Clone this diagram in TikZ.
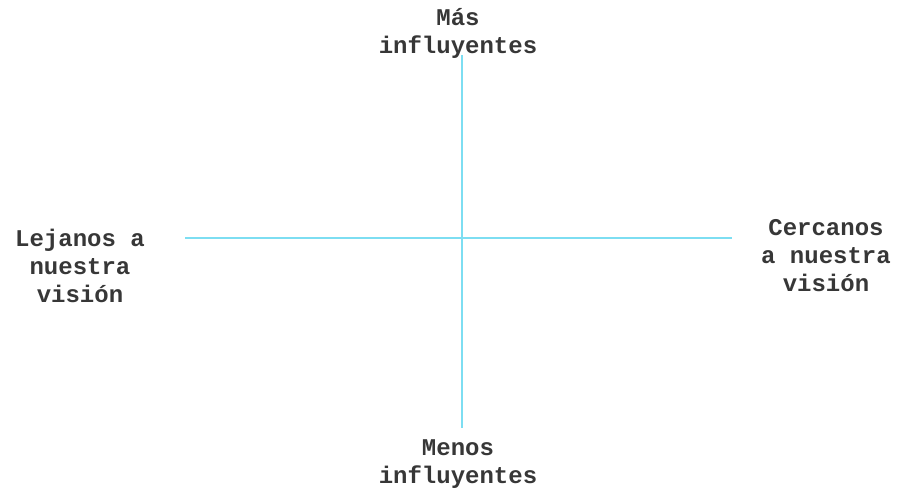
\documentclass[tikz,border=0pt]{standalone}
\usepackage{fontspec}
\setmonofont{Liberation Mono}
\definecolor{axiscyan}{RGB}{125,222,242}
\definecolor{labelgray}{RGB}{55,55,55}
\tikzset{
    axislabel/.style={font=\ttfamily\bfseries\fontsize{24}{28}\selectfont, text=labelgray, align=center, inner sep=0pt},
    axisline/.style={color=axiscyan, line width=2.2pt}
}
\begin{document}
\begin{tikzpicture}[x=1pt, y=-1pt]
        \useasboundingbox (0,0) rectangle (906,491);
        \coordinate (n) at (462,55);
        \coordinate (s) at (462,428);
        \coordinate (w) at (185,238);
        \coordinate (e) at (732,238);
        \draw[axisline] (n) -- (s);
        \draw[axisline] (w) -- (e);
        \node[axislabel] (mas) at (458,33) {Más\\influyentes};
        \node[axislabel] (menos) at (458,464) {Menos\\influyentes};
        \node[axislabel] (lejanos) at (80,266) {Lejanos a\\nuestra\\visión};
        \node[axislabel] (cercanos) at (826,256) {Cercanos\\a nuestra\\visión};
    \end{tikzpicture}
\end{document}
